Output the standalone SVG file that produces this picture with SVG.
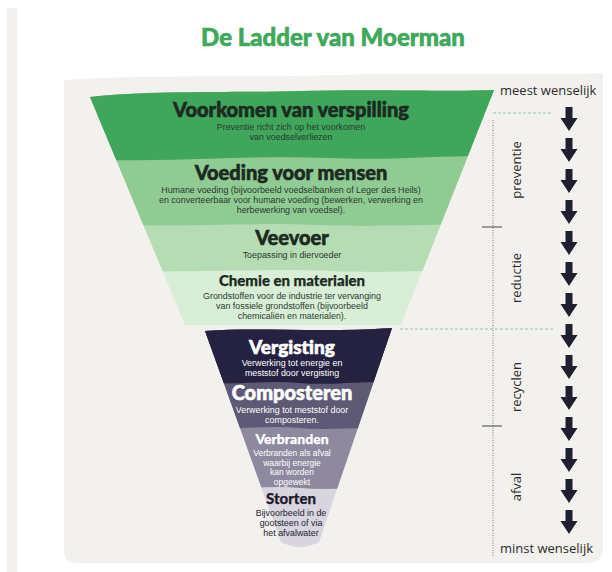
<svg xmlns="http://www.w3.org/2000/svg" width="612" height="572" viewBox="0 0 612 572">
  <style>
    .h { font-family: Lato, "Open Sans", "Liberation Sans", sans-serif; font-weight: 900; text-anchor: middle; stroke-width: 0.6px; stroke-linejoin: round; }
    .hm { stroke-width: 0.25px; }
    .b { font-family: "Liberation Sans", Arial, sans-serif; font-size: 8.9px; text-anchor: middle; }
    .bs { font-size: 8.5px; }
    .dk { fill: #1c2a22; stroke: #1c2a22; }
    .hw { fill: #ffffff; stroke: #ffffff; }
    .hs { fill: #1e1d2e; stroke: #1e1d2e; }
    .bd { fill: #2a3a30; }
    .wh { fill: #ffffff; }
    .side { font-family: "Open Sans", "Liberation Sans", sans-serif; font-size: 13px; fill: #2b2b2b; }
    .vl { font-family: "Open Sans", "Liberation Sans", sans-serif; font-size: 13px; fill: #2b2b2b; text-anchor: middle; }
  </style>
  <defs>
    <clipPath id="upperClip">
      <path d="M90,97 C150,90 240,93 300,91 C380,89 450,92 494,90 L401,325 L185,325 Z"/>
    </clipPath>
    <clipPath id="lowerClip">
      <path d="M205,331 C260,327 320,333 392,328 L319,542 Q300,552 281,542 Z"/>
    </clipPath>
    <path id="arr" d="M-3.5,0 h7 v11 h5 l-8.5,13 l-8.5,-13 h5 z" fill="#1e2030"/>
  </defs>

  <rect width="612" height="572" fill="#ffffff"/>
  <path d="M7,8 H17 V572 H7 Z" fill="#f3f1ee"/>
  <path d="M64,80 C150,74 250,78 340,75 C450,72 540,76 603,73 V548 Q603,563 588,563 H76 Q64,563 64,551 Z" fill="#f3f1ee"/>

  <text x="333" y="46" class="h" font-size="24" fill="#3fa85a" stroke="#3fa85a">De Ladder van Moerman</text>

  <g id="upper-funnel" clip-path="url(#upperClip)">
    <rect x="80" y="80" width="430" height="260" fill="#d9eed6"/>
    <path d="M80,80 H510 V272 C450,268 400,274 330,271 C260,268 200,274 80,270 Z" fill="#b6dcb3"/>
    <path d="M80,80 H510 V226 C440,222 390,228 320,225 C250,222 180,228 80,224 Z" fill="#90cb93"/>
    <path d="M80,80 H510 V157 C440,154 400,161 330,158 C250,155 180,162 80,160 Z" fill="#3fa65b"/>
  </g>

  <g id="lower-funnel" clip-path="url(#lowerClip)">
    <rect x="200" y="320" width="200" height="240" fill="#d8d5df"/>
    <path d="M200,320 H400 V489 C360,486 330,491 300,488 C270,485 240,490 200,488 Z" fill="#8e899f"/>
    <path d="M200,320 H400 V429 C360,426 330,431 300,428 C270,425 240,430 200,428 Z" fill="#5e5974"/>
    <path d="M200,320 H400 V383 C360,380 330,386 300,383 C270,380 240,385 200,383 Z" fill="#242240"/>
  </g>

  <g id="node-voorkomen">
    <text x="291" y="117" class="h dk" font-size="20">Voorkomen van verspilling</text>
    <text x="291" y="130" class="b bd">Preventie richt zich op het voorkomen</text>
    <text x="291" y="140" class="b bd">van voedselverliezen</text>
  </g>
  <g id="node-voeding">
    <text x="291" y="180" class="h dk" font-size="20">Voeding voor mensen</text>
    <text x="291" y="193" class="b bd">Humane voeding (bijvoorbeeld voedselbanken of Leger des Heils)</text>
    <text x="291" y="203" class="b bd">en converteerbaar voor humane voeding (bewerken, verwerking en</text>
    <text x="291" y="213" class="b bd">herbewerking van voedsel).</text>
  </g>
  <g id="node-veevoer">
    <text x="292" y="245" class="h dk" font-size="20">Veevoer</text>
    <text x="292" y="258" class="b bd">Toepassing in diervoeder</text>
  </g>
  <g id="node-chemie">
    <text x="292" y="286" class="h hm dk" font-size="15">Chemie en materialen</text>
    <text x="292" y="299" class="b bd">Grondstoffen voor de industrie ter vervanging</text>
    <text x="292" y="309" class="b bd">van fossiele grondstoffen (bijvoorbeeld</text>
    <text x="292" y="319" class="b bd">chemicaliën en materialen).</text>
  </g>
  <g id="node-vergisting">
    <text x="292" y="354" class="h hw" font-size="19">Vergisting</text>
    <text x="292" y="366" class="b wh">Verwerking tot energie en</text>
    <text x="292" y="376" class="b wh">meststof door vergisting</text>
  </g>
  <g id="node-composteren">
    <text x="292" y="400" class="h hw" font-size="20">Composteren</text>
    <text x="292" y="413" class="b wh">Verwerking tot meststof door</text>
    <text x="292" y="423" class="b wh">composteren.</text>
  </g>
  <g id="node-verbranden">
    <text x="292" y="444" class="h hm hw" font-size="14">Verbranden</text>
    <text x="292" y="456" class="b bs wh">Verbranden als afval</text>
    <text x="292" y="465.5" class="b bs wh">waarbij energie</text>
    <text x="292" y="475" class="b bs wh">kan worden</text>
    <text x="292" y="484.5" class="b bs wh">opgewekt</text>
  </g>
  <g id="node-storten">
    <text x="291" y="504" class="h hm hs" font-size="15">Storten</text>
    <text x="291" y="516" class="b" fill="#1e1d2e">Bijvoorbeeld in de</text>
    <text x="291" y="526" class="b" fill="#1e1d2e">gootsteen of via</text>
    <text x="291" y="536" class="b" fill="#1e1d2e">het afvalwater</text>
  </g>

  <g id="connectors">
    <line x1="493" y1="113" x2="552" y2="113" stroke="#8fc79a" stroke-width="1.2" stroke-dasharray="3,2"/>
    <line x1="400" y1="329" x2="553" y2="329" stroke="#8fc79a" stroke-width="1.2" stroke-dasharray="3,2"/>
    <line x1="493" y1="120" x2="493" y2="556" stroke="#777" stroke-width="1" stroke-dasharray="1,1.5"/>
    <line x1="482" y1="227" x2="502" y2="227" stroke="#444" stroke-width="1"/>
    <line x1="482" y1="426" x2="502" y2="426" stroke="#444" stroke-width="1"/>
    <use href="#arr" x="569" y="107"/>
    <use href="#arr" x="569" y="138"/>
    <use href="#arr" x="569" y="169"/>
    <use href="#arr" x="569" y="200"/>
    <use href="#arr" x="569" y="231"/>
    <use href="#arr" x="569" y="262"/>
    <use href="#arr" x="569" y="293"/>
    <use href="#arr" x="569" y="324"/>
    <use href="#arr" x="569" y="355"/>
    <use href="#arr" x="569" y="386"/>
    <use href="#arr" x="569" y="417"/>
    <use href="#arr" x="569" y="448"/>
    <use href="#arr" x="569" y="479"/>
    <use href="#arr" x="569" y="510"/>
  </g>

  <g id="side-labels">
    <text x="500" y="95" class="side">meest wenselijk</text>
    <text x="500" y="553" class="side">minst wenselijk</text>
    <text class="vl" transform="translate(521,170) rotate(-90)">preventie</text>
    <text class="vl" transform="translate(521,278) rotate(-90)">reductie</text>
    <text class="vl" transform="translate(521,387) rotate(-90)">recyclen</text>
    <text class="vl" transform="translate(521,487) rotate(-90)">afval</text>
  </g>
</svg>
